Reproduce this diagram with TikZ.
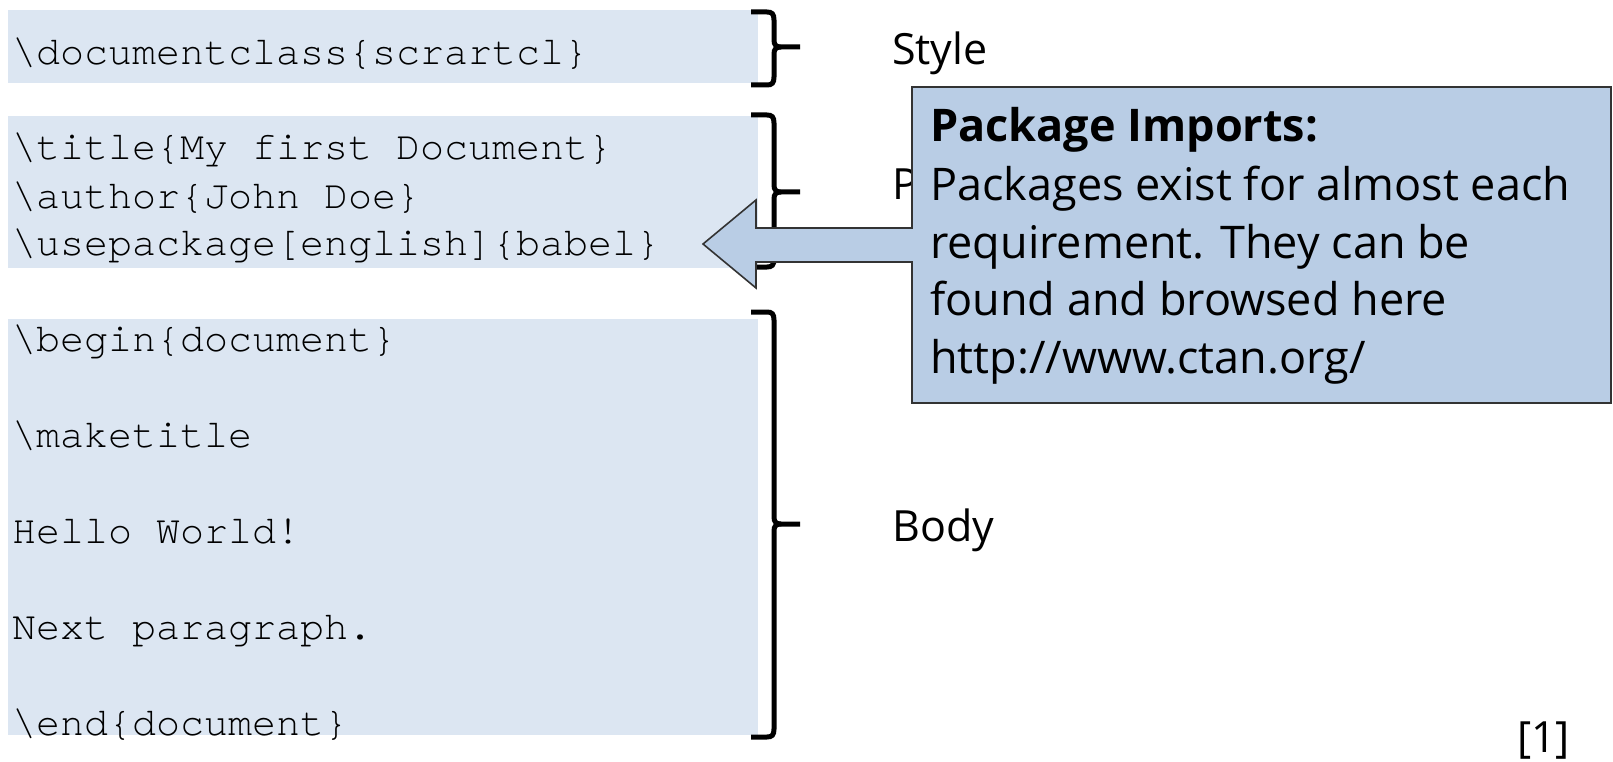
\documentclass[tikz,border=0pt]{standalone}
\usepackage{fontspec}
\setmainfont{Open Sans}
\newfontfamily\codefont[Ligatures=NoCommon]{TeX Gyre Cursor}
\definecolor{codebg}{HTML}{DCE6F2}
\definecolor{calloutbg}{HTML}{B9CDE5}
\definecolor{calloutline}{HTML}{333333}
\tikzset{
  codebox/.style={fill=codebg, draw=none},
  codeline/.style={anchor=base west, inner sep=0pt, font=\codefont\fontsize{40}{48}\selectfont},
  label/.style={anchor=base west, inner sep=0pt, font=\fontsize{43}{52}\selectfont},
  ctext/.style={anchor=base west, inner sep=0pt, font=\fontsize{45}{56}\selectfont},
  bracket/.style={line width=5pt, black}
}
\newcommand{\curlyright}[3]{% top, tip, bottom
  \draw[bracket] (751,#1) -- (767,#1) .. controls (772,#1) and (774,#1+2) .. (774,#1+8)
    -- (774,#2-7) .. controls (774,#2-2) and (776,#2) .. (781,#2) -- (800,#2);
  \draw[bracket] (781,#2) .. controls (776,#2) and (774,#2+2) .. (774,#2+7)
    -- (774,#3-8) .. controls (774,#3-2) and (772,#3) .. (767,#3) -- (751,#3);
}
\begin{document}
\begin{tikzpicture}[x=1pt,y=-1pt]
\useasboundingbox (0,0) rectangle (1613,762);

% code blocks
\fill[codebox] (8,10) rectangle (758,83);
\fill[codebox] (8,116) rectangle (758,268);
\fill[codebox] (8,319) rectangle (758,735);

\node[codeline] (cls) at (12,65) {\textbackslash documentclass\{scrartcl\}};
\node[codeline] (ttl) at (12,160) {\textbackslash title\{My first Document\}};
\node[codeline] (aut) at (12,208) {\textbackslash author\{John Doe\}};
\node[codeline] (pkg) at (12,255) {\textbackslash usepackage[english]\{babel\}};
\node[codeline] (bgn) at (12,351) {\textbackslash begin\{document\}};
\node[codeline] (mkt) at (12,447) {\textbackslash maketitle};
\node[codeline] (hlo) at (12,543) {Hello World!};
\node[codeline] (nxt) at (12,639) {Next paragraph.};
\node[codeline] (end) at (12,735) {\textbackslash end\{document\}};

% curly brackets
\curlyright{12}{47}{85}
\curlyright{115}{192}{267}
\curlyright{312}{524}{737}

% section labels (the second one is mostly covered by the callout)
\node[label] (style) at (892,65) {Style};
\node[label] (pre) at (892,200) {P};
\node[label] (body) at (892,541) {Body};
\node[label] (ref) at (1517,752) {[1]};

% callout with arrow pointing at the package line
\filldraw[fill=calloutbg, draw=calloutline, line width=1.6pt, line join=miter]
  (912,87) -- (1611,87) -- (1611,403) -- (912,403) -- (912,262) -- (756,262)
  -- (756,288) -- (703,244) -- (756,200) -- (756,228) -- (912,228) -- cycle;
\node[ctext, font=\fontsize{45}{56}\selectfont\bfseries] (chead) at (930,141.5) {Package Imports:};
\node[ctext] (c1) at (930,200.5) {Packages exist for almost each};
\node[ctext] (c2) at (930,258) {requirement. They can be};
\node[ctext] (c3) at (930,315.5) {found and browsed here};
\node[ctext] (c4) at (930,373) {http://www.ctan.org/};
\end{tikzpicture}
\end{document}
